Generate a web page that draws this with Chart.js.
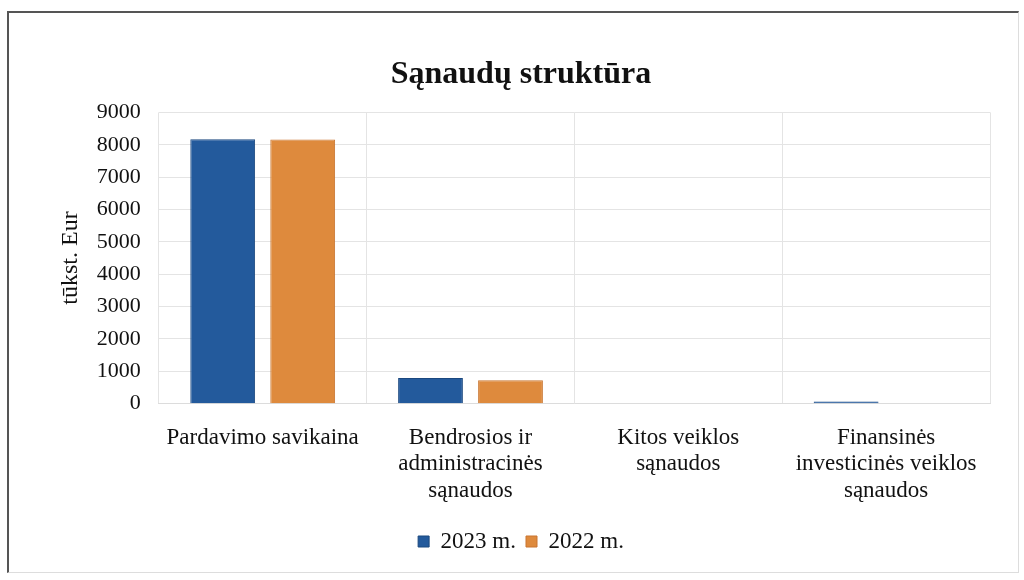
<!DOCTYPE html>
<html>
<head>
<meta charset="utf-8">
<script src="https://cdn.jsdelivr.net/npm/chart.js@4"></script>
<style>
  html, body { margin: 0; padding: 0; background: #fff; }
  #wrap { position: relative; width: 1024px; height: 580px; overflow: hidden; }
  #frame {
    position: absolute; left: 7px; top: 11px; width: 1012px; height: 562px;
    border-left: 2px solid #555; border-top: 2px solid #555;
    border-right: 1px solid #ddd; border-bottom: 1px solid #ddd;
    box-sizing: border-box;
  }
  canvas { position: absolute; left: 0; top: 0; }
</style>
</head>
<body>
<div id="wrap">
  <div id="frame"></div>
  <canvas id="costChart" width="1024" height="580"></canvas>
</div>
<script>
// --- data ---
const categories = [
    'Pardavimo savikaina',
    ['Bendrosios ir', 'administracinės', 'sąnaudos'],
    ['Kitos veiklos', 'sąnaudos'],
    ['Finansinės', 'investicinės veiklos', 'sąnaudos']
];
const values2023 = [8170, 790, 0, 70];
const values2022 = [8160, 720, 0, 0];
const seriesNames = ['2023 m.', '2022 m.'];

const serif = "'Liberation Serif', 'DejaVu Serif', serif";

document.addEventListener('DOMContentLoaded', () => {
    const ctx = document.getElementById('costChart').getContext('2d');

    new Chart(ctx, {
        type: 'bar',
        data: {
            labels: categories,
            datasets: [{
                label: seriesNames[0],
                data: values2023,
                backgroundColor: '#235a9c',
                borderColor: '#1b487f',
                borderWidth: 1
            }, {
                label: seriesNames[1],
                data: values2022,
                backgroundColor: '#de8a3d',
                borderColor: '#c97530',
                borderWidth: 1
            }]
        },
        options: {
            responsive: false,
            animation: false,
            categoryPercentage: 0.77,
            barPercentage: 0.81,
            layout: { padding: { top: 56, left: 52, right: 34, bottom: 17 } },
            plugins: {
                title: {
                    display: true,
                    text: 'Sąnaudų struktūra',
                    color: '#111',
                    font: { family: serif, size: 32, weight: 'bold' },
                    padding: { top: 0, bottom: 18 }
                },
                legend: {
                    position: 'bottom',
                    labels: {
                        color: '#111',
                        font: { family: serif, size: 23 },
                        boxWidth: 11,
                        boxHeight: 11,
                        padding: 10
                    }
                },
                tooltip: { enabled: false }
            },
            scales: {
                x: {
                    grid: { color: '#e4e4e4', offset: true, drawTicks: false },
                    border: { color: '#dcdcdc' },
                    ticks: {
                        color: '#111',
                        font: { family: serif, size: 23, lineHeight: 1.15 },
                        padding: 21,
                        maxRotation: 0,
                        autoSkip: false
                    },
                    afterFit: (scale) => { scale.height -= 5; }
                },
                y: {
                    min: 0,
                    max: 9000,
                    grid: { color: '#e4e4e4', drawTicks: false },
                    border: { display: false },
                    ticks: {
                        stepSize: 1000,
                        color: '#111',
                        font: { family: serif, size: 22 },
                        padding: 18,
                        callback: (v) => String(v)
                    },
                    title: {
                        display: true,
                        text: 'tūkst. Eur',
                        color: '#111',
                        font: { family: serif, size: 24 },
                        padding: { top: 4, bottom: 11 }
                    },
                    // pull ticks and plot left, title stays put
                    afterFit: (scale) => { scale.width -= 17; }
                }
            }
        }
    });
});
</script>
</body>
</html>
